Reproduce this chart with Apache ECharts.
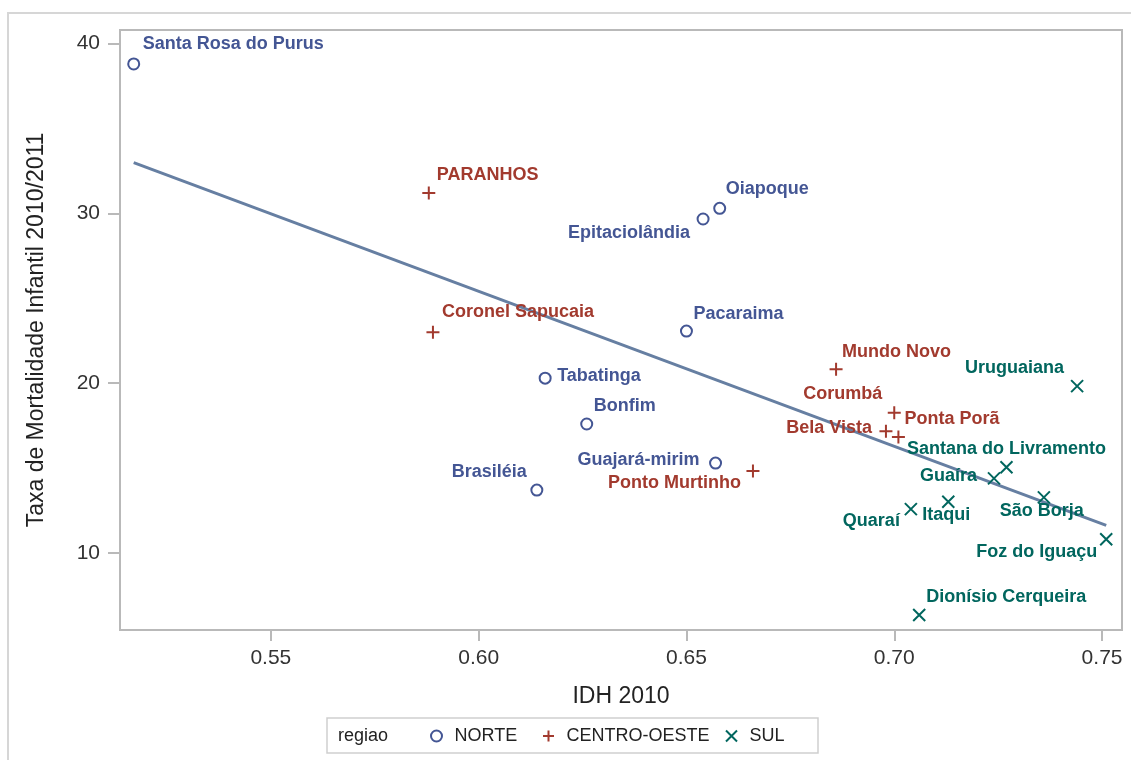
<!DOCTYPE html>
<html>
<head>
<meta charset="utf-8">
<script src="https://cdn.jsdelivr.net/npm/echarts@6/dist/echarts.min.js"></script>
<style>
  html, body { margin: 0; padding: 0; background: #ffffff; }
  #chart { width: 1131px; height: 760px; }
</style>
</head>
<body>
<div id="chart"></div>
<script>
// IDH 2010 x taxa de mortalidade infantil 2010/2011 — municípios de fronteira por região

// NORTE
const norteNomes = ['Santa Rosa do Purus', 'Oiapoque', 'Epitaciolândia', 'Pacaraima', 'Tabatinga', 'Bonfim', 'Guajará-mirim', 'Brasiléia'];
const norteIdh   = [0.517, 0.658, 0.654, 0.650, 0.616, 0.626, 0.657, 0.614];
const norteTaxa  = [38.8, 30.3, 29.67, 23.07, 20.3, 17.6, 15.3, 13.71];

// CENTRO-OESTE
const coNomes = ['PARANHOS', 'Coronel Sapucaia', 'Mundo Novo', 'Corumbá', 'Bela Vista', 'Ponta Porã', 'Ponto Murtinho'];
const coIdh   = [0.588, 0.589, 0.686, 0.700, 0.698, 0.701, 0.666];
const coTaxa  = [31.2, 23.0, 20.82, 18.26, 17.18, 16.83, 14.83];

// SUL
const sulNomes = ['Uruguaiana', 'Santana do Livramento', 'Guaíra', 'Itaqui', 'Quaraí', 'São Borja', 'Foz do Iguaçu', 'Dionísio Cerqueira'];
const sulIdh   = [0.744, 0.727, 0.724, 0.713, 0.704, 0.736, 0.751, 0.706];
const sulTaxa  = [19.83, 15.05, 14.4, 13.02, 12.59, 13.28, 10.81, 6.35];

// Marcas dos eixos
const xTicks = [0.55, 0.60, 0.65, 0.70, 0.75];
const yTicks = [10, 20, 30, 40];

const FONT = "'Liberation Sans', Arial, Helvetica, sans-serif";
const CORES = { 'NORTE': '#445694', 'CENTRO-OESTE': '#A23A2E', 'SUL': '#01665E' };

// Posição de cada rótulo em relação ao seu ponto: [alinhamento, dx, dy]
const rotuloPos = {
  'Santa Rosa do Purus': ['left', 9, -20],
  'Oiapoque': ['left', 6, -19],
  'Epitaciolândia': ['right', -13, 14],
  'Pacaraima': ['left', 7, -17],
  'Tabatinga': ['left', 12, -2],
  'Bonfim': ['left', 7, -18],
  'Guajará-mirim': ['right', -16, -3],
  'Brasiléia': ['right', -10, -18],
  'PARANHOS': ['left', 8, -18],
  'Coronel Sapucaia': ['left', 9, -20],
  'Mundo Novo': ['left', 6, -17],
  'Corumbá': ['right', -12, -19],
  'Bela Vista': ['right', -14, -3],
  'Ponta Porã': ['left', 6, -18],
  'Ponto Murtinho': ['right', -12, 12],
  'Uruguaiana': ['right', -13, -18],
  'Santana do Livramento': ['center', 0, -18],
  'Guaíra': ['right', -17, -2],
  'Itaqui': ['center', -2, 13],
  'Quaraí': ['right', -11, 12],
  'São Borja': ['center', -2, 14],
  'Foz do Iguaçu': ['right', -9, 13],
  'Dionísio Cerqueira': ['left', 7, -18]
};

function pontos(nomes, xs, ys) {
  return nomes.map((n, i) => {
    const p = rotuloPos[n] || ['left', 8, -18];
    return {
      name: n,
      value: [xs[i], ys[i]],
      label: { align: p[0], offset: [p[1], p[2]] }
    };
  });
}

// Reta de regressão (mínimos quadrados) sobre todos os municípios
const todosX = norteIdh.concat(coIdh, sulIdh);
const todosY = norteTaxa.concat(coTaxa, sulTaxa);
function ajusteLinear(xs, ys) {
  const n = xs.length;
  const mx = xs.reduce((s, v) => s + v, 0) / n;
  const my = ys.reduce((s, v) => s + v, 0) / n;
  let sxy = 0, sxx = 0;
  for (let i = 0; i < n; i++) {
    sxy += (xs[i] - mx) * (ys[i] - my);
    sxx += (xs[i] - mx) * (xs[i] - mx);
  }
  const b = sxy / sxx;
  return { a: my - b * mx, b: b };
}
const fit = ajusteLinear(todosX, todosY);
const xMin = Math.min.apply(null, todosX);
const xMax = Math.max.apply(null, todosX);
const retaDados = [[xMin, fit.a + fit.b * xMin], [xMax, fit.a + fit.b * xMax]];

const SIMBOLOS = {
  'NORTE': 'circle',
  'CENTRO-OESTE': 'path://M5,0L5,10M0,5L10,5',
  'SUL': 'path://M0,0L10,10M10,0L0,10'
};
const TAMANHOS = { 'NORTE': 11, 'CENTRO-OESTE': 13, 'SUL': 12 };

function serieRegiao(nome, dados) {
  return {
    name: nome,
    type: 'scatter',
    z: 3,
    symbol: SIMBOLOS[nome],
    symbolSize: TAMANHOS[nome],
    itemStyle: { color: 'rgba(255,255,255,0)', borderColor: CORES[nome], borderWidth: 2, opacity: 1 },
    label: {
      show: true,
      position: 'inside',
      verticalAlign: 'middle',
      formatter: '{b}',
      color: CORES[nome],
      fontFamily: FONT,
      fontSize: 18,
      fontWeight: 'bold'
    },
    emphasis: { disabled: true },
    data: dados
  };
}

const legendaBase = {
  top: 727,
  padding: 0,
  itemWidth: 26,
  itemHeight: 11,
  selectedMode: false,
  itemStyle: { borderWidth: 2, opacity: 1 },
  textStyle: { fontFamily: FONT, fontSize: 18, color: '#222' }
};

const chart = echarts.init(document.getElementById('chart'), null, { renderer: 'canvas' });
chart.setOption({
  backgroundColor: '#ffffff',
  animation: false,
  textStyle: { fontFamily: FONT },
  grid: {
    left: 120, right: 9, top: 30, bottom: 130,
    show: true, borderColor: '#b9b9b9', borderWidth: 2, backgroundColor: '#ffffff'
  },
  xAxis: {
    type: 'value',
    min: 0.5137, max: 0.7548,
    name: 'IDH 2010',
    nameLocation: 'middle',
    nameGap: 67,
    nameTextStyle: { fontFamily: FONT, fontSize: 23, color: '#222', verticalAlign: 'middle' },
    axisLine: { show: false },
    axisTick: { show: true, length: 11, customValues: xTicks, lineStyle: { color: '#b9b9b9', width: 2 } },
    axisLabel: { customValues: xTicks, margin: 18, fontSize: 21, color: '#333', fontFamily: FONT,
      formatter: v => v.toFixed(2) },
    splitLine: { show: false }
  },
  yAxis: {
    type: 'value',
    min: 5.47, max: 40.8,
    name: 'Taxa de Mortalidade Infantil 2010/2011',
    nameLocation: 'middle',
    nameGap: 83,
    nameTextStyle: { fontFamily: FONT, fontSize: 23, color: '#222', verticalAlign: 'middle' },
    axisLine: { show: false },
    axisTick: { show: true, length: 12, customValues: yTicks, lineStyle: { color: '#b9b9b9', width: 2 } },
    axisLabel: { customValues: yTicks, margin: 20, fontSize: 21, color: '#333', fontFamily: FONT },
    splitLine: { show: false }
  },
  legend: [
    Object.assign({ left: 430, data: ['NORTE'] }, legendaBase),
    Object.assign({ left: 542, data: ['CENTRO-OESTE'] }, legendaBase),
    Object.assign({ left: 725, data: ['SUL'] }, legendaBase)
  ],
  graphic: [
    { type: 'rect', z: -10, silent: true,
      shape: { x: 8, y: 13, width: 1140, height: 760 },
      style: { fill: 'none', stroke: '#d6d6d6', lineWidth: 2 } },
    { type: 'rect', silent: true,
      shape: { x: 327, y: 718, width: 491, height: 35 },
      style: { fill: 'none', stroke: '#cfcfcf', lineWidth: 1.5 } },
    { type: 'text', silent: true, x: 338, y: 736,
      style: { text: 'regiao', font: '18px ' + FONT, fill: '#222', textVerticalAlign: 'middle', verticalAlign: 'middle' } }
  ],
  series: [
    {
      name: 'Ajuste',
      type: 'line',
      z: 2,
      data: retaDados,
      showSymbol: false,
      symbol: 'none',
      lineStyle: { color: '#667FA2', width: 3 },
      emphasis: { disabled: true },
      silent: true
    },
    serieRegiao('NORTE', pontos(norteNomes, norteIdh, norteTaxa)),
    serieRegiao('CENTRO-OESTE', pontos(coNomes, coIdh, coTaxa)),
    serieRegiao('SUL', pontos(sulNomes, sulIdh, sulTaxa))
  ]
});
</script>
</body>
</html>
